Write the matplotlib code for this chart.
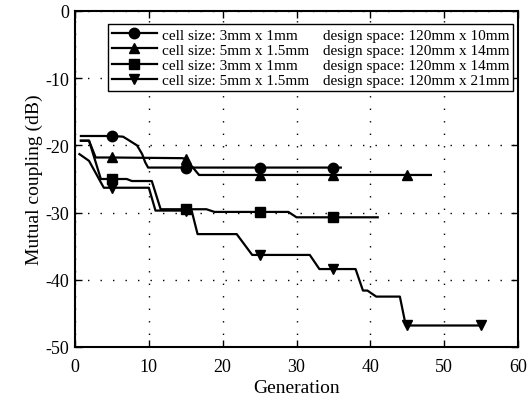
import numpy as np
import matplotlib
matplotlib.use('Agg')
import matplotlib.pyplot as plt
from matplotlib.lines import Line2D

plt.rcParams['font.family'] = ['Liberation Serif', 'DejaVu Serif']
plt.rcParams['axes.unicode_minus'] = False

# dane
gen_kolo = [0.8, 5, 6.5, 7.1, 8.4, 9.1, 9.5, 9.9, 15, 25, 35, 36]
db_kolo = [-18.6, -18.6, -18.7, -19.1, -20.0, -21.3, -22.5, -23.3, -23.3, -23.3, -23.3, -23.3]

gen_troj = [0.8, 1.9, 2.8, 5, 14.5, 15, 16.8, 25, 35, 45, 48.2]
db_troj = [-19.3, -19.3, -21.8, -21.8, -21.9, -22.0, -24.4, -24.4, -24.4, -24.4, -24.4]

gen_kw = [0.8, 1.9, 3.5, 5, 7.0, 7.7, 10.4, 11.6, 15, 17.8, 18.9, 25, 28.9, 30.0, 35, 41]
db_kw = [-19.3, -19.3, -25.0, -25.0, -25.0, -25.3, -25.3, -29.5, -29.5, -29.5, -29.9, -29.9,
         -29.9, -30.7, -30.7, -30.7]

gen_dol = [0.6, 1.9, 3.9, 5, 10.0, 10.9, 15, 15.8, 16.6, 21.9, 24.0, 25, 31.8, 33.1, 35,
           38.0, 39.0, 39.6, 40.8, 44.0, 44.8, 45, 55]
db_dol = [-21.3, -22.3, -26.3, -26.3, -26.3, -29.7, -29.7, -29.7, -33.2, -33.2, -36.3, -36.3,
          -36.3, -38.4, -38.4, -38.4, -41.6, -41.6, -42.5, -42.5, -46.8, -46.8, -46.8]

rozmiary = ['cell size: 3mm x 1mm', 'cell size: 5mm x 1.5mm',
            'cell size: 3mm x 1mm', 'cell size: 5mm x 1.5mm']
przestrzenie = ['design space: 120mm x 10mm', 'design space: 120mm x 14mm',
                'design space: 120mm x 14mm', 'design space: 120mm x 21mm']

serie = [(gen_kolo, db_kolo, 'o'), (gen_troj, db_troj, '^'),
         (gen_kw, db_kw, 's'), (gen_dol, db_dol, 'v')]
znaczniki_gen = [5, 15, 25, 35, 45, 55]

fig = plt.figure(figsize=(5.29, 4.02), dpi=100)
ax = fig.add_axes([75 / 529, 1 - 348 / 402, 443 / 529, 336 / 402])

uchwyty = []
for x, y, m in serie:
    idx = [i for i, g in enumerate(x) if g in znaczniki_gen]
    l, = ax.plot(x, y, color='black', lw=1.6, marker=m, markersize=7.5,
                 markevery=idx, markerfacecolor='black', markeredgecolor='black')
    uchwyty.append(l)

ax.set_xlim(0, 60)
ax.set_ylim(-50, 0)
ax.set_xticks(range(0, 61, 10))
ax.set_yticks(range(-50, 1, 10))
ax.grid(True, color='black', linestyle=(0, (1, 8)), linewidth=1.0)
for s in ax.spines.values():
    s.set_linewidth(1.5)
ax.tick_params(direction='in', top=True, right=True, length=5, width=1, labelsize=13)
ax.tick_params(axis='x', pad=8)
ax.tick_params(axis='y', pad=4)
ax.set_xlabel('Generation', fontsize=14, labelpad=3)
ax.set_ylabel('Mutual coupling (dB)', fontsize=14, labelpad=2)

# legenda w dwóch kolumnach: druga kolumna bez symboli
puste = [Line2D([], [], color='none') for _ in przestrzenie]
leg = ax.legend(uchwyty + puste, rozmiary + przestrzenie, ncol=2,
                loc='upper right', bbox_to_anchor=(0.989, 0.961), borderaxespad=0,
                fontsize=11, handlelength=3.0, handletextpad=0.3,
                columnspacing=-2.4, labelspacing=0.1, borderpad=0.25,
                fancybox=False, framealpha=1, edgecolor='black')
leg.get_frame().set_linewidth(1.0)

fig.savefig('out.png', dpi=100)
